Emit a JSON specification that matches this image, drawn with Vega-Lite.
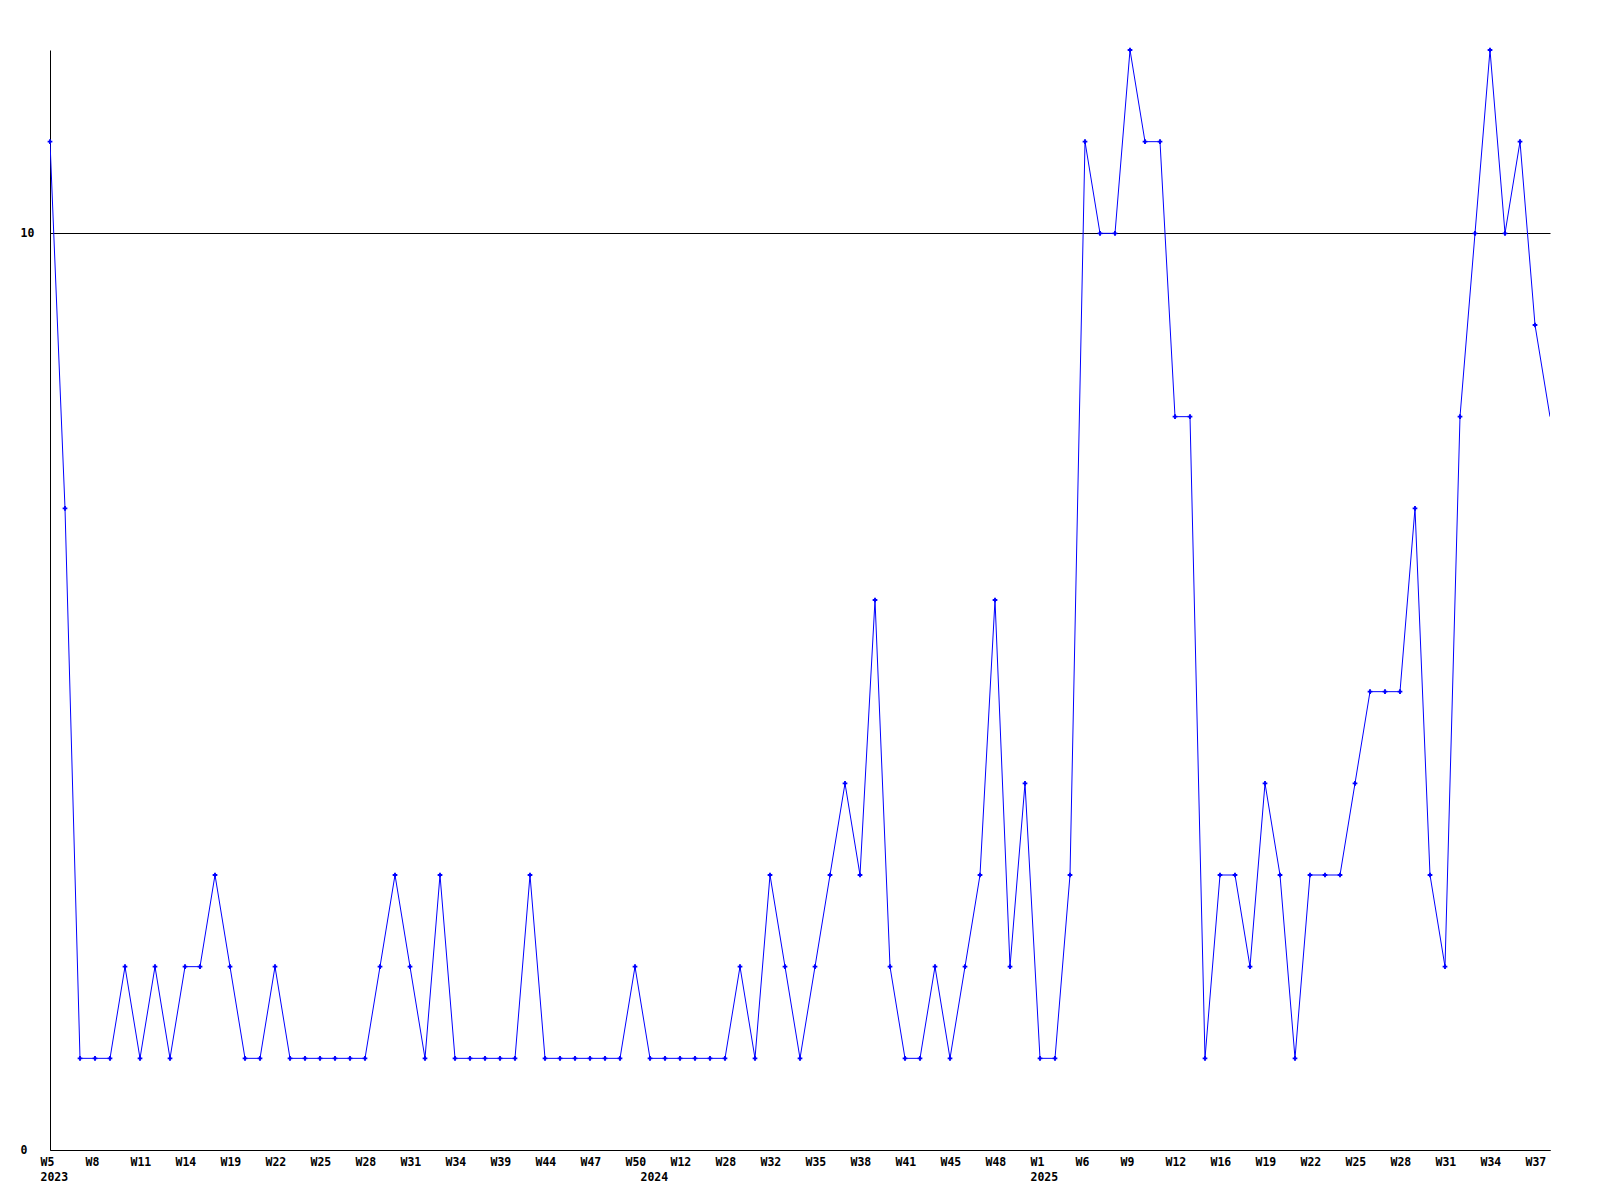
{
  "$schema": "https://vega.github.io/schema/vega-lite/v6.json",
  "width": 1500,
  "height": 1100,
  "autosize": {"type": "none"},
  "padding": {"left": 50, "top": 50, "right": 50, "bottom": 50},
  "background": "white",
  "config": {"view": {"stroke": null}},
  "data": {"values": [
    {"i":0,"v":11},{"i":1,"v":7},{"i":2,"v":1},{"i":3,"v":1},{"i":4,"v":1},{"i":5,"v":2},{"i":6,"v":1},{"i":7,"v":2},{"i":8,"v":1},{"i":9,"v":2},
    {"i":10,"v":2},{"i":11,"v":3},{"i":12,"v":2},{"i":13,"v":1},{"i":14,"v":1},{"i":15,"v":2},{"i":16,"v":1},{"i":17,"v":1},{"i":18,"v":1},{"i":19,"v":1},
    {"i":20,"v":1},{"i":21,"v":1},{"i":22,"v":2},{"i":23,"v":3},{"i":24,"v":2},{"i":25,"v":1},{"i":26,"v":3},{"i":27,"v":1},{"i":28,"v":1},{"i":29,"v":1},
    {"i":30,"v":1},{"i":31,"v":1},{"i":32,"v":3},{"i":33,"v":1},{"i":34,"v":1},{"i":35,"v":1},{"i":36,"v":1},{"i":37,"v":1},{"i":38,"v":1},{"i":39,"v":2},
    {"i":40,"v":1},{"i":41,"v":1},{"i":42,"v":1},{"i":43,"v":1},{"i":44,"v":1},{"i":45,"v":1},{"i":46,"v":2},{"i":47,"v":1},{"i":48,"v":3},{"i":49,"v":2},
    {"i":50,"v":1},{"i":51,"v":2},{"i":52,"v":3},{"i":53,"v":4},{"i":54,"v":3},{"i":55,"v":6},{"i":56,"v":2},{"i":57,"v":1},{"i":58,"v":1},{"i":59,"v":2},
    {"i":60,"v":1},{"i":61,"v":2},{"i":62,"v":3},{"i":63,"v":6},{"i":64,"v":2},{"i":65,"v":4},{"i":66,"v":1},{"i":67,"v":1},{"i":68,"v":3},{"i":69,"v":11},
    {"i":70,"v":10},{"i":71,"v":10},{"i":72,"v":12},{"i":73,"v":11},{"i":74,"v":11},{"i":75,"v":8},{"i":76,"v":8},{"i":77,"v":1},{"i":78,"v":3},{"i":79,"v":3},
    {"i":80,"v":2},{"i":81,"v":4},{"i":82,"v":3},{"i":83,"v":1},{"i":84,"v":3},{"i":85,"v":3},{"i":86,"v":3},{"i":87,"v":4},{"i":88,"v":5},{"i":89,"v":5},
    {"i":90,"v":5},{"i":91,"v":7},{"i":92,"v":3},{"i":93,"v":2},{"i":94,"v":8},{"i":95,"v":10},{"i":96,"v":12},{"i":97,"v":10},{"i":98,"v":11},{"i":99,"v":9},
    {"i":100,"v":8}
  ]},
  "encoding": {
    "x": {
      "field": "i", "type": "quantitative",
      "scale": {"domain": [0, 100], "nice": false, "zero": false},
      "axis": {
        "title": null,
        "values": [0,3,6,9,12,15,18,21,24,27,30,33,36,39,40,42,45,48,51,54,57,60,63,66,69,72,75,78,81,84,87,90,93,96,99],
        "labelExpr": "datum.value == 0 ? ['W5','2023'] : datum.value == 40 ? ['', '2024'] : datum.value == 66 ? ['W1','2025'] : ['W5','W8','W11','W14','W19','W22','W25','W28','W31','W34','W39','W44','W47','W50','W12','W28','W32','W35','W38','W41','W45','W48','W1','W6','W9','W12','W16','W19','W22','W25','W28','W31','W34','W37'][floor(datum.value/3)]",
        "grid": false,
        "ticks": false,
        "tickSize": 0,
        "domainColor": "black",
        "domainWidth": 1,
        "labelFont": "DejaVu Sans Mono",
        "labelFontWeight": "bold",
        "labelFontSize": 11.5,
        "labelColor": "black",
        "labelAlign": "left",
        "labelOffset": -10,
        "labelPadding": 6,
        "labelLineHeight": 15,
        "labelOverlap": false,
        "labelFlush": false,
        "labelBound": false
      }
    },
    "y": {
      "field": "v", "type": "quantitative",
      "scale": {"domain": [0, 12], "nice": false},
      "axis": {
        "title": null,
        "values": [0, 10],
        "grid": true,
        "gridColor": "black",
        "gridOpacity": 1,
        "gridWidth": 1,
        "ticks": false,
        "tickSize": 0,
        "domainColor": "black",
        "domainWidth": 1,
        "labelFont": "DejaVu Sans Mono",
        "labelFontWeight": "bold",
        "labelFontSize": 11.5,
        "labelColor": "black",
        "labelAlign": "left",
        "labelPadding": 30,
        "labelFlush": false
      }
    }
  },
  "layer": [
    {"mark": {"type": "line", "color": "#0000ff", "strokeWidth": 1, "clip": true}},
    {
      "transform": [{"filter": "datum.i < 100"}],
      "mark": {"type": "point", "shape": "cross", "filled": true, "size": 22, "color": "#0000ff", "opacity": 1}
    }
  ]
}
